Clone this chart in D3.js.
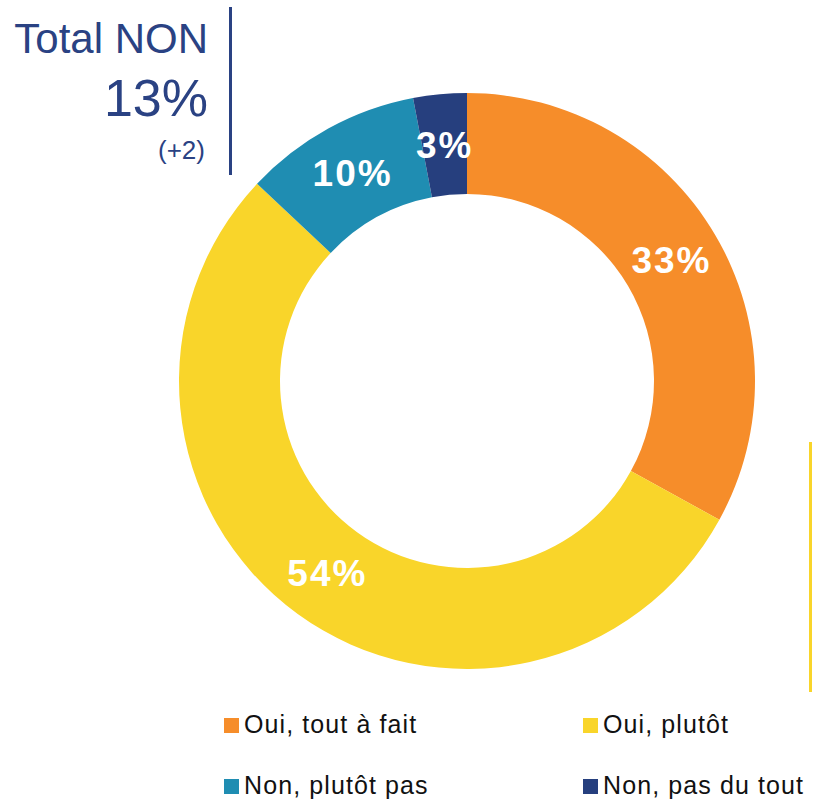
<!DOCTYPE html>
<html>
<head>
<meta charset="utf-8">
<script src="https://cdn.jsdelivr.net/npm/d3@7"></script>
<style>
  html, body { margin: 0; padding: 0; background: #fff; }
  svg { display: block; font-family: "Liberation Sans", Arial, sans-serif; }
</style>
</head>
<body>
<svg id="chart" width="818" height="802"></svg>
<script>
// Survey answers, in drawing order (clockwise from 12 o'clock)
const categories = ["Oui, tout à fait", "Oui, plutôt", "Non, plutôt pas", "Non, pas du tout"];
const values = [33, 54, 10, 3];
const colors = ["#F68D2A", "#F9D52A", "#1F8DB2", "#263F7E"];

// Headline block
const totalLabel = "Total NON";
const totalValue = "13%";
const totalDelta = "(+2)";

const svg = d3.select("#chart");
const cx = 467, cy = 381;
const outerR = 288, innerR = 187;

const data = categories.map((c, i) => ({ category: c, value: values[i], color: colors[i] }));

const pie = d3.pie().value(d => d.value).sort(null);
const arc = d3.arc().innerRadius(innerR).outerRadius(outerR);

const g = svg.append("g").attr("transform", `translate(${cx},${cy})`);
const arcs = pie(data);

g.selectAll("path.slice")
  .data(arcs)
  .join("path")
  .attr("class", "slice")
  .attr("d", arc)
  .attr("fill", d => d.data.color);

g.selectAll("text.pct")
  .data(arcs)
  .join("text")
  .attr("class", "pct")
  .attr("transform", d => {
    const [x, y] = arc.centroid(d);
    return `translate(${x},${y})`;
  })
  .attr("text-anchor", "middle")
  .attr("dy", "0.36em")
  .attr("fill", "#fff")
  .attr("font-weight", "bold")
  .attr("font-size", 37)
  .attr("letter-spacing", 2)
  .text(d => d.data.value + "%");

// Headline: total of the "Non" answers
const navy = "#2A4283";
svg.append("text")
  .attr("x", 208).attr("y", 53)
  .attr("text-anchor", "end")
  .attr("font-size", 42)
  .attr("fill", navy)
  .text(totalLabel);
svg.append("text")
  .attr("x", 208).attr("y", 116)
  .attr("text-anchor", "end")
  .attr("font-size", 52)
  .attr("fill", navy)
  .text(totalValue);
svg.append("text")
  .attr("x", 205).attr("y", 159)
  .attr("text-anchor", "end")
  .attr("font-size", 26)
  .attr("fill", navy)
  .text(totalDelta);

svg.append("line")
  .attr("x1", 230.5).attr("x2", 230.5)
  .attr("y1", 7).attr("y2", 175)
  .attr("stroke", navy).attr("stroke-width", 3);

svg.append("line")
  .attr("x1", 810.5).attr("x2", 810.5)
  .attr("y1", 442).attr("y2", 692)
  .attr("stroke", "#F9D52A").attr("stroke-width", 3);

// Legend: two columns, two rows
const legendX = [224, 583];
const legendY = [733, 794];
const legend = svg.append("g")
  .selectAll("g")
  .data(data)
  .join("g")
  .attr("transform", (d, i) => `translate(${legendX[i % 2]},${legendY[Math.floor(i / 2)]})`);

legend.append("rect")
  .attr("x", 0).attr("y", -15)
  .attr("width", 15).attr("height", 15)
  .attr("fill", d => d.color);

legend.append("text")
  .attr("x", 20).attr("y", 0)
  .attr("font-size", 25)
  .attr("letter-spacing", 1.1)
  .attr("fill", "#111")
  .text(d => d.category);
</script>
</body>
</html>
